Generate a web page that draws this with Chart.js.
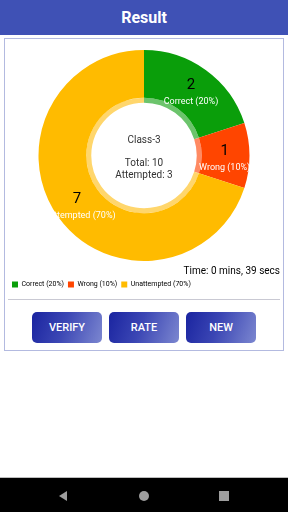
<!DOCTYPE html>
<html>
<head>
<meta charset="utf-8">
<script src="https://cdn.jsdelivr.net/npm/chart.js@4/dist/chart.umd.min.js"></script>
<style>
  body { margin: 0; width: 288px; height: 512px; background: #fff; font-family: Roboto, sans-serif; position: relative; overflow: hidden; }
  .bar { position: absolute; left: 0; top: 0; width: 288px; height: 35px; background: #3F51B5; color: #fff; font-weight: bold; font-size: 16px; text-align: center; line-height: 35px; }
  .card { position: absolute; left: 4px; top: 38px; width: 278px; height: 311px; border: 1px solid #B3BAE0; }
  #wrap { position: absolute; left: 4px; top: 40px; width: 280px; height: 258px; }
  .sep { position: absolute; left: 8px; top: 299px; width: 272px; height: 1px; background: #C9C9D3; }
  .btn { position: absolute; top: 312px; width: 70px; height: 31px; border-radius: 5px; color: #fff; font-size: 11px; font-weight: 500; text-align: center; line-height: 31px; background: linear-gradient(110deg, #1A24A0 0%, #3B46B4 45%, #7C87D0 100%); }
  .nav { position: absolute; left: 0; top: 477px; width: 288px; height: 35px; background: #000; border-top: 1px solid #BDBDBD; }
  .tri { position: absolute; left: 59px; top: 13px; width: 0; height: 0; border-top: 5px solid transparent; border-bottom: 5px solid transparent; border-right: 8px solid #9E9E9E; }
  .dot { position: absolute; left: 139px; top: 13px; width: 10px; height: 10px; border-radius: 50%; background: #9E9E9E; }
  .sq { position: absolute; left: 219px; top: 13px; width: 10px; height: 10px; background: #9E9E9E; }
</style>
</head>
<body>
<div class="bar">Result</div>
<div class="card"></div>
<div id="wrap"><canvas id="resultChart" width="280" height="258"></canvas></div>
<div class="sep"></div>
<div class="btn" style="left:32px">VERIFY</div>
<div class="btn" style="left:109px">RATE</div>
<div class="btn" style="left:186px">NEW</div>
<div class="nav"><div class="tri"></div><div class="dot"></div><div class="sq"></div></div>
<script>
const categories = ['Correct', 'Wrong', 'Unattempted'];
const counts = [2, 1, 7];
const percents = ['20%', '10%', '70%'];
const sliceColors = ['#0A9E0A', '#FF4500', '#FFBB00'];
const ringColors = ['#6CC46C', '#FF8A62', '#FFD66C'];
const centerLines = ['Class-3', '', 'Total: 10', 'Attempted: 3'];
const timeText = 'Time: 0 mins, 39 secs';

const labelText = categories.map((c, i) => c + ' (' + percents[i] + ')');

// Draws value + category on each slice and the text in the hole
const sliceLabels = {
    id: 'sliceLabels',
    afterDatasetsDraw(chart) {
        const ctx = chart.ctx;
        const meta = chart.getDatasetMeta(0);
        ctx.save();
        ctx.textAlign = 'center';
        ctx.textBaseline = 'middle';
        meta.data.forEach((arc, i) => {
            const p = arc.tooltipPosition();
            ctx.fillStyle = '#000';
            ctx.font = '15px Roboto';
            ctx.fillText(counts[i], p.x - 1, p.y - 4);
            ctx.fillStyle = '#fff';
            ctx.font = '9px Roboto';
            ctx.fillText(labelText[i], p.x - 1, p.y + 12);
        });
        const cx = meta.data[0].x;
        const cy = meta.data[0].y;
        ctx.fillStyle = '#333';
        ctx.font = '10px Roboto';
        centerLines.forEach((t, i) => {
            ctx.fillText(t, cx, cy - 15 + i * 11.5);
        });
        ctx.restore();
    }
};

const ctx = document.getElementById('resultChart').getContext('2d');
const chart = new Chart(ctx, {
    type: 'doughnut',
    data: {
        labels: labelText,
        datasets: [{
            data: counts,
            backgroundColor: sliceColors,
            borderWidth: 0,
            weight: 48
        }, {
            data: counts,
            backgroundColor: ringColors,
            borderWidth: 0,
            weight: 5
        }]
    },
    options: {
        responsive: false,
        animation: false,
        cutout: '50%',
        layout: { padding: { top: 10, left: 4, right: 4 } },
        plugins: {
            tooltip: { enabled: false },
            subtitle: {
                display: true,
                text: timeText,
                position: 'bottom',
                align: 'end',
                color: '#000',
                font: { family: 'Roboto', size: 10 },
                padding: { top: 4, bottom: 0 }
            },
            legend: {
                position: 'bottom',
                align: 'start',
                weight: 2000,
                labels: {
                    boxWidth: 6,
                    boxHeight: 6,
                    padding: 4,
                    color: '#555',
                    font: { family: 'Roboto', size: 7 },
                    generateLabels(c) {
                        return labelText.map((t, i) => ({
                            text: t,
                            fillStyle: sliceColors[i],
                            strokeStyle: sliceColors[i],
                            lineWidth: 0,
                            index: i
                        }));
                    }
                }
            }
        }
    },
    plugins: [sliceLabels]
});
</script>
</body>
</html>
